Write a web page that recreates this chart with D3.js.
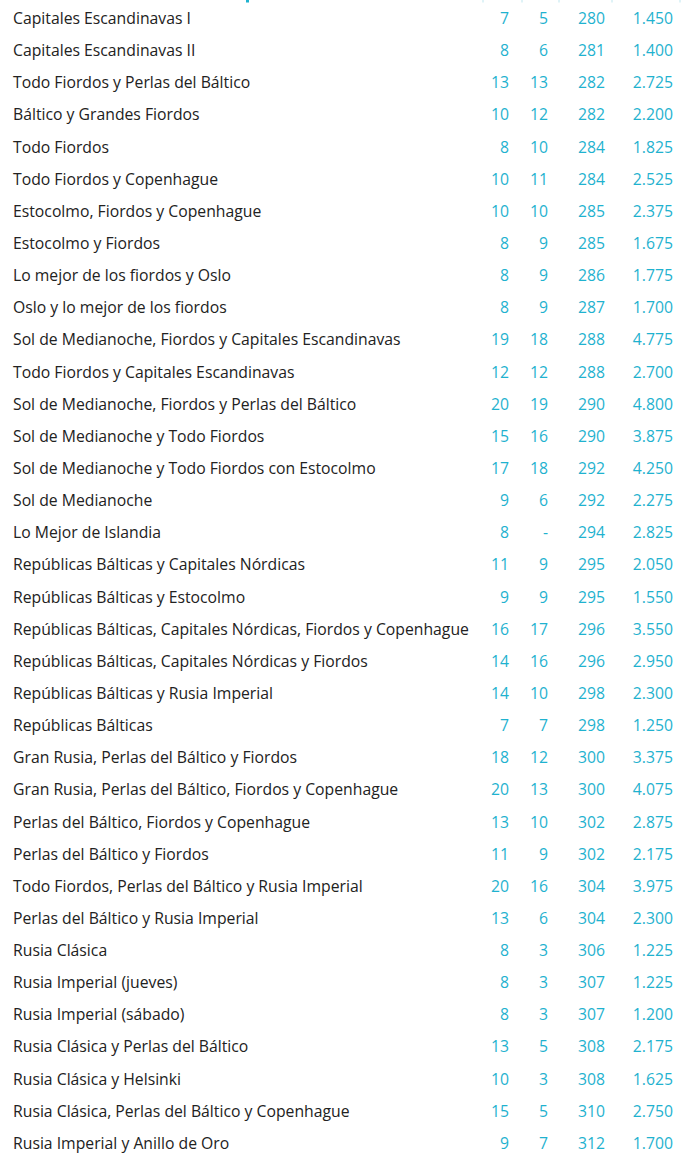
<!DOCTYPE html>
<html>
<head>
<meta charset="utf-8">
<script src="https://cdn.jsdelivr.net/npm/d3@7"></script>
<style>
  body { margin: 0; background: #fff; }
  svg { display: block; }
  text { font-variant-ligatures: none; }
</style>
</head>
<body>
<script>
// datos de los itinerarios
let itinerarios = [
  "Capitales Escandinavas I",
  "Capitales Escandinavas II",
  "Todo Fiordos y Perlas del Báltico",
  "Báltico y Grandes Fiordos",
  "Todo Fiordos",
  "Todo Fiordos y Copenhague",
  "Estocolmo, Fiordos y Copenhague",
  "Estocolmo y Fiordos",
  "Lo mejor de los fiordos y Oslo",
  "Oslo y lo mejor de los fiordos",
  "Sol de Medianoche, Fiordos y Capitales Escandinavas",
  "Todo Fiordos y Capitales Escandinavas",
  "Sol de Medianoche, Fiordos y Perlas del Báltico",
  "Sol de Medianoche y Todo Fiordos",
  "Sol de Medianoche y Todo Fiordos con Estocolmo",
  "Sol de Medianoche",
  "Lo Mejor de Islandia",
  "Repúblicas Bálticas y Capitales Nórdicas",
  "Repúblicas Bálticas y Estocolmo",
  "Repúblicas Bálticas, Capitales Nórdicas, Fiordos y Copenhague",
  "Repúblicas Bálticas, Capitales Nórdicas y Fiordos",
  "Repúblicas Bálticas y Rusia Imperial",
  "Repúblicas Bálticas",
  "Gran Rusia, Perlas del Báltico y Fiordos",
  "Gran Rusia, Perlas del Báltico, Fiordos y Copenhague",
  "Perlas del Báltico, Fiordos y Copenhague",
  "Perlas del Báltico y Fiordos",
  "Todo Fiordos, Perlas del Báltico y Rusia Imperial",
  "Perlas del Báltico y Rusia Imperial",
  "Rusia Clásica",
  "Rusia Imperial (jueves)",
  "Rusia Imperial (sábado)",
  "Rusia Clásica y Perlas del Báltico",
  "Rusia Clásica y Helsinki",
  "Rusia Clásica, Perlas del Báltico y Copenhague",
  "Rusia Imperial y Anillo de Oro"
]
let columna1 = [7, 8, 13, 10, 8, 10, 10, 8, 8, 8, 19, 12, 20, 15, 17, 9, 8, 11, 9, 16, 14, 14, 7, 18, 20, 13, 11, 20, 13, 8, 8, 8, 13, 10, 15, 9]
let columna2 = [5, 6, 13, 12, 10, 11, 10, 9, 9, 9, 18, 12, 19, 16, 18, 6, null, 9, 9, 17, 16, 10, 7, 12, 13, 10, 9, 16, 6, 3, 3, 3, 5, 3, 5, 7]
let pagina = [280, 281, 282, 282, 284, 284, 285, 285, 286, 287, 288, 288, 290, 290, 292, 292, 294, 295, 295, 296, 296, 298, 298, 300, 300, 302, 302, 304, 304, 306, 307, 307, 308, 308, 310, 312]
let precio = [1450, 1400, 2725, 2200, 1825, 2525, 2375, 1675, 1775, 1700, 4775, 2700, 4800, 3875, 4250, 2275, 2825, 2050, 1550, 3550, 2950, 2300, 1250, 3375, 4075, 2875, 2175, 3975, 2300, 1225, 1225, 1200, 2175, 1625, 2750, 1700]

let width = 689, height = 1153
let azul = "#1fb2cf"
let gris = "#222222"
let fuente = "'Open Sans', sans-serif"
let tamano = "15.75px"

let svg = d3.select("body")
  .append("svg")
  .attr("width", width)
  .attr("height", height)

// restos de la cabecera cortada
let separadores = [483, 522, 559, 612, 680]
svg.selectAll(".sep")
  .data(separadores)
  .enter()
  .append("line")
  .attr("x1", d => d).attr("x2", d => d)
  .attr("y1", 0).attr("y2", 2.5)
  .attr("stroke", "#bfe6ef")
  .attr("stroke-width", 1)

svg.append("rect")
  .attr("x", 246).attr("y", 0)
  .attr("width", 3).attr("height", 2.5)
  .attr("fill", azul)

// escala de filas
let paso = 32.14
let y = d3.scaleBand()
  .domain(d3.range(itinerarios.length))
  .range([18.5 - paso / 2, 18.5 - paso / 2 + paso * itinerarios.length])

let formatoPrecio = d3.formatLocale({ decimal: ",", thousands: ".", grouping: [3], currency: ["", "€"] }).format(",")

let filas = svg.selectAll(".fila")
  .data(itinerarios)
  .enter()
  .append("g")
  .attr("class", "fila")
  .attr("transform", (d, i) => "translate(0," + (y(i) + y.bandwidth() / 2) + ")")

filas.append("text")
  .attr("x", 13)
  .attr("dy", "0.35em")
  .attr("fill", gris)
  .style("font-family", fuente)
  .style("font-size", tamano)
  .text(d => d)

let columnas = [
  { x: 509, valores: columna1, fmt: d => d },
  { x: 548, valores: columna2, fmt: d => d == null ? "-" : d },
  { x: 605, valores: pagina, fmt: d => d },
  { x: 673, valores: precio, fmt: d => formatoPrecio(d) }
]

columnas.forEach(col => {
  filas.append("text")
    .attr("x", col.x)
    .attr("dy", "0.35em")
    .attr("text-anchor", "end")
    .attr("fill", azul)
    .style("font-family", fuente)
    .style("font-size", tamano)
    .text((d, i) => col.fmt(col.valores[i]))
})
</script>
</body>
</html>
